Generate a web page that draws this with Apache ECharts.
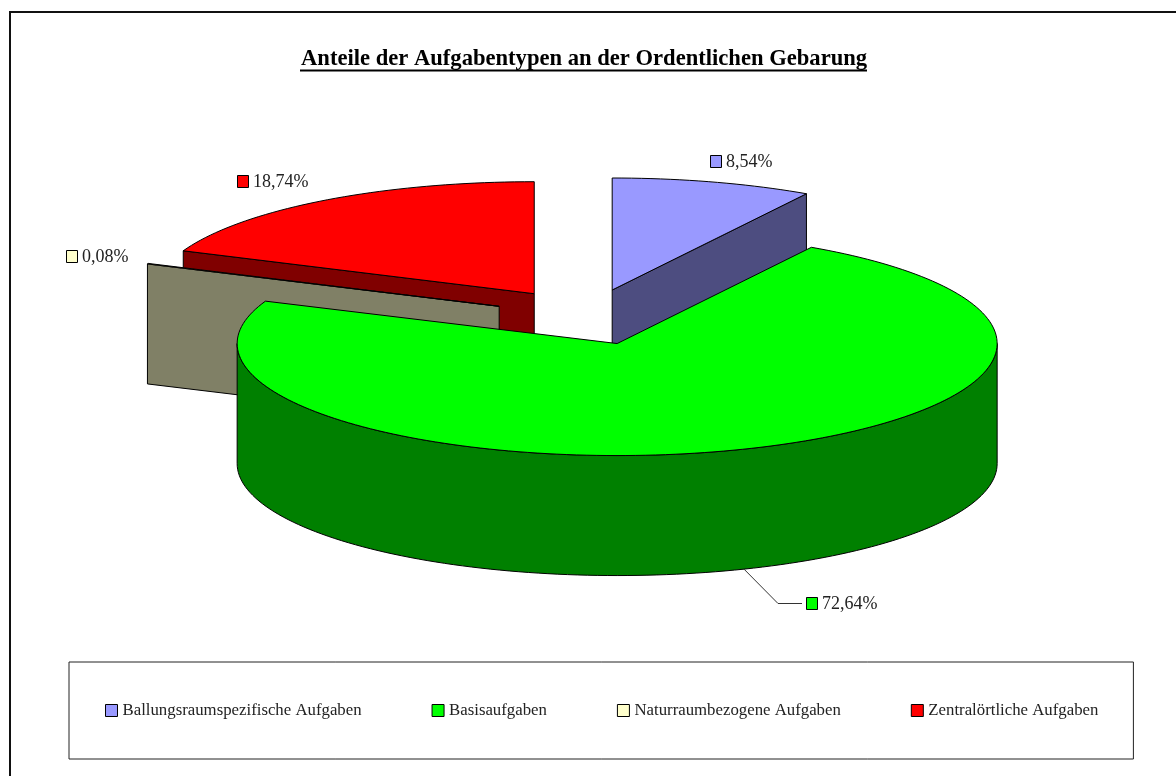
<!DOCTYPE html>
<html>
<head>
<meta charset="utf-8">
<title>Anteile der Aufgabentypen</title>
<script src="https://cdn.jsdelivr.net/npm/echarts@6/dist/echarts.min.js"></script>
<style>
  html, body { margin: 0; padding: 0; background: #fff; }
  #chart { width: 1176px; height: 776px; }
</style>
</head>
<body>
<div id="chart"></div>
<script>
// data
const titleText = 'Anteile der Aufgabentypen an der Ordentlichen Gebarung'
const categories = ['Ballungsraumspezifische Aufgaben', 'Basisaufgaben', 'Naturraumbezogene Aufgaben', 'Zentralörtliche Aufgaben']
const shares = [8.54, 72.64, 0.08, 18.74]
const topColors = ['#9999ff', '#00ff00', '#ffffcc', '#ff0000']
const sideColors = ['#4d4d80', '#008000', '#808066', '#800000']
// back to front
const drawOrder = [3, 4, 2, 1]

// pie geometry
const cx = 587
const cy = 317
const rx = 380
const ry = 112
const depth = 120
const explode = 0.25
const fontName = 'Liberation Serif'
// swatch top-left of each data label
const labelPos = [[710, 155], [806, 597], [66, 250], [237, 175]]

const total = shares.reduce((a, b) => a + b, 0)

// angle is clockwise from 12 o'clock, in degrees
function pt (ox, oy, deg, dy) {
  const r = deg * Math.PI / 180
  return [ox + rx * Math.sin(r), oy - ry * Math.cos(r) + (dy || 0)]
}

function arc (ox, oy, from, to, dy) {
  const list = []
  const steps = Math.max(2, Math.ceil((to - from) / 1.5))
  for (let i = 0; i <= steps; i++) {
    list.push(pt(ox, oy, from + (to - from) * i / steps, dy))
  }
  return list
}

function face (ox, oy, deg, side) {
  return {
    type: 'polygon',
    shape: { points: [[ox, oy], pt(ox, oy, deg), pt(ox, oy, deg, depth), [ox, oy + depth]] },
    style: { fill: side, stroke: '#000', lineWidth: 1 }
  }
}

function renderSlice (idx) {
  return function (params, api) {
    const value = api.value(0)
    const before = shares.slice(0, idx).reduce((a, b) => a + b, 0)
    const start = before / total * 360
    const end = start + value / total * 360
    const mid = (start + end) / 2 * Math.PI / 180
    const ox = cx + explode * rx * Math.sin(mid)
    const oy = cy - explode * ry * Math.cos(mid)
    const children = []

    // radial walls that face the viewer
    if (Math.sin(start * Math.PI / 180) < -0.001) children.push(face(ox, oy, start, sideColors[idx]))
    if (Math.sin(end * Math.PI / 180) > 0.001) children.push(face(ox, oy, end, sideColors[idx]))

    // outer wall, only the front half of the ellipse shows
    const wallFrom = Math.max(start, 90)
    const wallTo = Math.min(end, 270)
    if (wallTo > wallFrom) {
      children.push({
        type: 'polygon',
        shape: { points: arc(ox, oy, wallFrom, wallTo).concat(arc(ox, oy, wallFrom, wallTo, depth).reverse()) },
        style: { fill: sideColors[idx], stroke: '#000', lineWidth: 1 }
      })
    }

    // top surface
    children.push({
      type: 'polygon',
      shape: { points: [[ox, oy]].concat(arc(ox, oy, start, end)) },
      style: { fill: topColors[idx], stroke: '#000', lineWidth: 1, lineJoin: 'round' }
    })

    // data label
    const lx = labelPos[idx][0]
    const ly = labelPos[idx][1]
    // the big slice gets a leader line
    if (idx === 1) {
      const foot = pt(ox, oy, (start + end) / 2 - 1, depth)
      children.push({
        type: 'polyline',
        shape: { points: [foot, [lx - 28, ly + 6.5], [lx - 4, ly + 6.5]] },
        style: { fill: null, stroke: '#333', lineWidth: 1 }
      })
    }
    children.push({
      type: 'rect',
      shape: { x: lx + 0.5, y: ly + 0.5, width: 11, height: 12 },
      style: { fill: topColors[idx], stroke: '#000', lineWidth: 1 }
    })
    children.push({
      type: 'text',
      style: {
        x: lx + 16,
        y: ly + 7,
        text: value.toFixed(2).replace('.', ',') + '%',
        fill: '#222',
        font: '18px "' + fontName + '"',
        textAlign: 'left',
        textVerticalAlign: 'middle'
      }
    })
    return { type: 'group', children }
  }
}

const chart = echarts.init(document.getElementById('chart'))

chart.setOption({
  animation: false,
  backgroundColor: '#fff',
  title: {
    text: titleText,
    left: 301,
    top: 48,
    itemGap: 0,
    padding: 0,
    textStyle: { fontFamily: fontName, fontSize: 22.6, fontWeight: 'bold', color: '#000' }
  },
  legend: {
    data: categories,
    left: 69,
    top: 662,
    orient: 'horizontal',
    icon: 'rect',
    itemWidth: 12,
    itemHeight: 12,
    itemGap: 70,
    selectedMode: false,
    padding: [40, 35, 40, 36],
    borderColor: '#222',
    borderWidth: 1,
    itemStyle: { borderColor: '#000', borderWidth: 1 },
    textStyle: { fontFamily: fontName, fontSize: 16.8, color: '#222', padding: [0, 0, 0, 0] }
  },
  graphic: [
    // chart frame, cut off on the right and at the bottom
    { type: 'line', shape: { x1: 10, y1: 11, x2: 10, y2: 776 }, style: { stroke: '#111', lineWidth: 2 } },
    { type: 'line', shape: { x1: 9, y1: 12, x2: 1176, y2: 12 }, style: { stroke: '#111', lineWidth: 2 } },
    // title underline
    { type: 'line', shape: { x1: 300, y1: 70.5, x2: 867, y2: 70.5 }, style: { stroke: '#000', lineWidth: 2 } }
  ],
  series: categories.map((name, i) => ({
    type: 'custom',
    name,
    coordinateSystem: 'none',
    z: drawOrder[i],
    itemStyle: { color: topColors[i] },
    renderItem: renderSlice(i),
    data: [shares[i]]
  }))
})
</script>
</body>
</html>
